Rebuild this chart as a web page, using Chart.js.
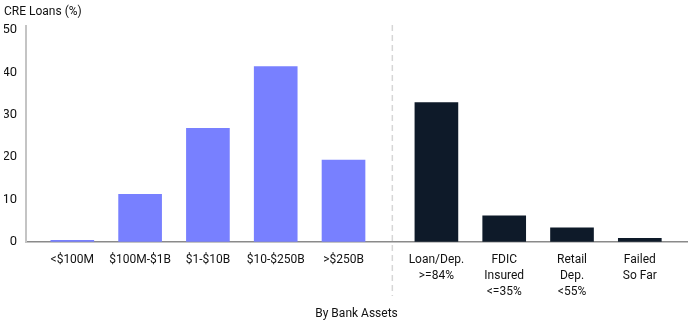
<!DOCTYPE html>
<html>
<head>
<meta charset="utf-8">
<script src="https://cdn.jsdelivr.net/npm/chart.js@4/dist/chart.umd.min.js"></script>
<style>
  html, body { margin: 0; padding: 0; background: #ffffff; }
  #wrap { width: 690px; height: 321px; position: relative; }
</style>
</head>
<body>
<div id="wrap"><canvas id="c" width="690" height="321"></canvas></div>
<script>
// ---- Data ----
const sizeLabels = ['<$100M', '$100M-$1B', '$1-$10B', '$10-$250B', '>$250B'];
const sizeValues = [0.3, 11.2, 26.8, 41.4, 19.3];
const riskLabels = [['Loan/Dep.', '>=84%'], ['FDIC', 'Insured', '<=35%'], ['Retail', 'Dep.', '<55%'], ['Failed', 'So Far']];
const riskValues = [32.9, 6.1, 3.3, 0.8];
const yTicks = [0, 10, 20, 30, 40, 50];
const yTitle = 'CRE Loans (%)';
const xTitle = 'By Bank Assets';

// ---- Layout helpers (positions along the x axis) ----
const GROUP_GAP = 0.37;
const sizePos = sizeLabels.map((_, i) => i);
const riskPos = riskLabels.map((_, i) => sizeLabels.length + GROUP_GAP + i);
const dividerPos = sizePos[sizePos.length - 1] + 0.72;
const allPos = sizePos.concat(riskPos);
const allLabels = sizeLabels.concat(riskLabels);

const FONT = "Roboto, 'Liberation Sans', sans-serif";
const FS = 12;

const dividerPlugin = {
  id: 'divider',
  beforeDatasetsDraw(chart) {
    const x = chart.scales.x.getPixelForValue(dividerPos);
    const ctx = chart.ctx;
    ctx.save();
    ctx.strokeStyle = '#d6d6d6';
    ctx.lineWidth = 1.5;
    ctx.setLineDash([6, 4]);
    ctx.beginPath();
    ctx.moveTo(x, 25);
    ctx.lineTo(x, 296);
    ctx.stroke();
    ctx.restore();
  }
};

new Chart(document.getElementById('c'), {
  type: 'bar',
  data: {
    datasets: [
      {
        data: sizePos.map((p, i) => ({ x: p, y: sizeValues[i] })),
        backgroundColor: '#7880ff',
        barThickness: 43,
        grouped: false
      },
      {
        data: riskPos.map((p, i) => ({ x: p, y: riskValues[i] })),
        backgroundColor: '#0e1a29',
        barThickness: 43,
        grouped: false
      }
    ]
  },
  options: {
    responsive: false,
    animation: false,
    layout: { padding: { left: 4, right: 3, top: 0, bottom: 0 } },
    plugins: {
      legend: { display: false },
      tooltip: { enabled: false },
      title: {
        display: true,
        text: yTitle,
        align: 'start',
        color: '#111111',
        font: { family: FONT, size: FS, weight: 'normal', lineHeight: 1.2 },
        padding: { top: 5, bottom: 6.6 }
      }
    },
    scales: {
      x: {
        type: 'linear',
        offset: false,
        min: -0.683,
        max: 9.066,
        grid: { display: false, drawTicks: false, offset: false },
        border: { display: true, color: '#8a8a8a', width: 1.5 },
        afterBuildTicks: (s) => { s.ticks = allPos.map(v => ({ value: v })); },
        afterFit: (s) => { s.height = 79.3; },
        ticks: {
          autoSkip: false,
          maxRotation: 0,
          padding: 10,
          color: '#111111',
          font: { family: FONT, size: FS, lineHeight: 1.333 },
          callback: (v) => {
            const i = allPos.indexOf(v);
            return i >= 0 ? allLabels[i] : '';
          }
        },
        title: {
          display: true,
          text: xTitle,
          color: '#111111',
          font: { family: FONT, size: FS, lineHeight: 1.2 },
          padding: { top: 0, bottom: 0 }
        }
      },
      y: {
        min: 0,
        max: 51,
        grid: { display: false, drawTicks: false },
        border: { display: true, color: '#c4c4c4', width: 2 },
        afterBuildTicks: (s) => { s.ticks = yTicks.map(v => ({ value: v })); },
        afterFit: (s) => { s.width = 22; },
        ticks: {
          padding: 9,
          color: '#111111',
          font: { family: FONT, size: 13 }
        }
      }
    }
  },
  plugins: [dividerPlugin]
});
</script>
</body>
</html>
